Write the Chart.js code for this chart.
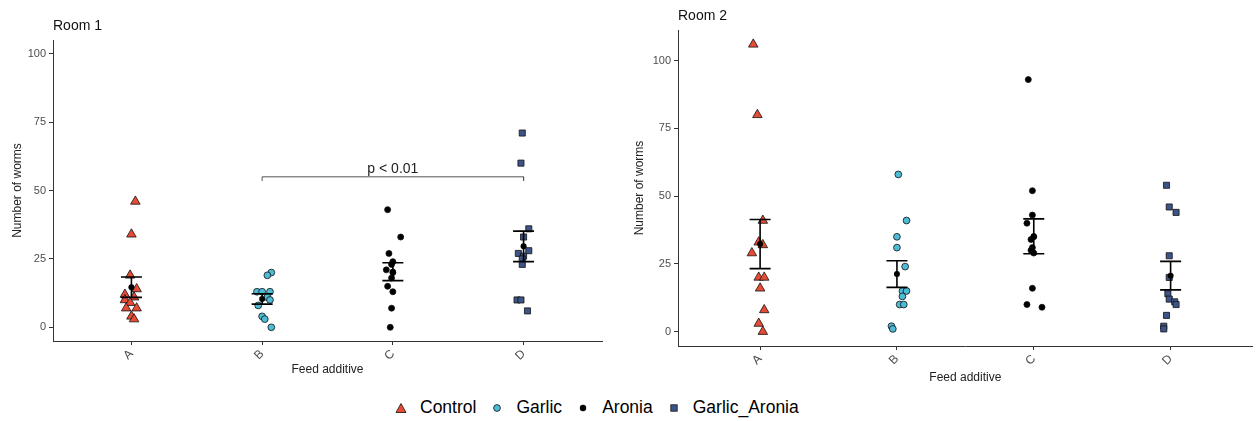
<!DOCTYPE html>
<html>
<head>
<meta charset="utf-8">
<script src="https://cdn.jsdelivr.net/npm/chart.js@4.4.1/dist/chart.umd.min.js"></script>
<style>
  body { margin: 0; background: #fff; width: 1259px; height: 421px; position: relative; overflow: hidden;
         font-family: "Liberation Sans", Arial, sans-serif; }
  #c1 { position: absolute; left: 0; top: 0; }
  #c2 { position: absolute; left: 620px; top: 0; }
  #legend { position: absolute; left: 395px; top: 397px; display: flex; align-items: center;
            font-size: 17.5px; color: #000; white-space: nowrap; }
  #legend svg { margin-right: 13px; }
  #legend span { margin-right: 15px; }
</style>
</head>
<body>
<canvas id="c1" width="610" height="385"></canvas>
<canvas id="c2" width="639" height="385"></canvas>
<div id="legend"></div>
<script>
const groups = ['A', 'B', 'C', 'D'];
const seriesNames = ['Control', 'Garlic', 'Aronia', 'Garlic_Aronia'];
const seriesColors = ['#E64B35', '#4DBBD5', '#000000', '#3C5488'];
const seriesShapes = ['triangle', 'circle', 'circle', 'rect'];
const seriesSizes = [5.5, 3.4, 3, 4.3];
const yTicks = [0, 25, 50, 75, 100];

// Room 1 values (worms per bird) and horizontal jitter
const r1Control = [46, 34, 19, 14, 12, 11, 10, 9, 7, 7, 4, 3];
const r1ControlJit = [0.03, 0.0, -0.01, 0.04, -0.05, 0.02, -0.05, -0.01, -0.04, 0.04, 0.0, 0.02];
const r1Garlic = [20, 19, 13, 13, 13, 11, 10, 8, 4, 3, 0];
const r1GarlicJit = [0.07, 0.04, -0.04, 0.0, 0.06, 0.04, 0.06, -0.03, 0.0, 0.02, 0.07];
const r1Aronia = [43, 33, 27, 24, 23, 21, 20, 18, 15, 13, 7, 0];
const r1AroniaJit = [-0.04, 0.06, -0.03, 0.0, -0.01, -0.05, 0.0, -0.01, -0.04, 0.0, -0.01, -0.02];
const r1GarlicAronia = [71, 60, 36, 33, 28, 27, 26, 25, 23, 10, 10, 6];
const r1GarlicAroniaJit = [-0.01, -0.02, 0.04, 0.0, 0.04, -0.04, 0.0, -0.01, -0.01, -0.05, -0.02, 0.03];

// Room 2
const r2Control = [106, 80, 41, 33, 32, 29, 20, 20, 16, 8, 3, 0];
const r2ControlJit = [-0.05, -0.02, 0.02, -0.01, 0.02, -0.06, -0.01, 0.03, 0.0, 0.03, -0.01, 0.02];
const r2Garlic = [58, 41, 35, 31, 24, 15, 15, 13, 10, 10, 2, 1];
const r2GarlicJit = [0.01, 0.07, 0.0, 0.0, 0.06, 0.04, 0.07, 0.04, 0.02, 0.05, -0.04, -0.03];
const r2Aronia = [93, 52, 43, 40, 35, 34, 31, 30, 29, 16, 10, 9];
const r2AroniaJit = [-0.04, -0.01, -0.01, -0.05, 0.0, -0.02, -0.01, -0.02, 0.0, -0.01, -0.05, 0.06];
const r2GarlicAronia = [54, 46, 44, 28, 20, 14, 12, 11, 10, 6, 2, 1];
const r2GarlicAroniaJit = [-0.03, -0.01, 0.04, -0.01, -0.01, -0.02, -0.01, 0.03, 0.04, -0.03, -0.05, -0.05];

// significance bracket in room 1 (B vs D)
const bracketFrom = 2, bracketTo = 4, bracketY = 55, bracketDrop = 1.5;
const bracketLabel = 'p < 0.01';

function mean(a) { return a.reduce((s, v) => s + v, 0) / a.length; }
function se(a) {
    const m = mean(a);
    const v = a.reduce((s, x) => s + (x - m) * (x - m), 0) / (a.length - 1);
    return Math.sqrt(v / a.length);
}

const extras = {
    id: 'extras',
    afterDatasetsDraw(chart, args, opts) {
        const ctx = chart.ctx;
        const x = chart.scales.x, y = chart.scales.y;
        ctx.save();
        // mean +/- SE error bars
        ctx.strokeStyle = '#000';
        ctx.lineWidth = 1.6;
        opts.groups.forEach(function (vals, i) {
            const m = mean(vals), s = se(vals);
            const px = x.getPixelForValue(i + 1);
            const top = y.getPixelForValue(m + s), bot = y.getPixelForValue(m - s);
            ctx.beginPath();
            ctx.moveTo(px, top); ctx.lineTo(px, bot);
            ctx.moveTo(px - 10.5, top); ctx.lineTo(px + 10.5, top);
            ctx.moveTo(px - 10.5, bot); ctx.lineTo(px + 10.5, bot);
            ctx.stroke();
            ctx.beginPath();
            ctx.fillStyle = '#000';
            ctx.arc(px, y.getPixelForValue(m), 3, 0, Math.PI * 2);
            ctx.fill();
        });
        // panel title
        ctx.fillStyle = '#111';
        ctx.font = '14px "Liberation Sans", Arial, sans-serif';
        ctx.textAlign = 'left';
        ctx.textBaseline = 'middle';
        ctx.fillText(opts.title, chart.chartArea.left, opts.titleY);
        if (opts.bracket) {
            ctx.fillStyle = '#222';
            ctx.textAlign = 'center';
            ctx.textBaseline = 'bottom';
            ctx.fillText(bracketLabel, x.getPixelForValue((bracketFrom + bracketTo) / 2), y.getPixelForValue(bracketY) - 1);
        }
        ctx.restore();
    }
};

function makeDatasets(valueSets, jitterSets, withBracket) {
    const ds = valueSets.map(function (vals, i) {
        return {
            label: seriesNames[i],
            data: vals.map((v, k) => ({ x: i + 1 + jitterSets[i][k], y: v })),
            pointStyle: seriesShapes[i],
            pointRadius: seriesSizes[i],
            backgroundColor: seriesColors[i],
            borderColor: '#111',
            borderWidth: 0.8,
            showLine: false,
        };
    });
    if (withBracket) {
        ds.push({
            label: 'bracket',
            data: [
                { x: bracketFrom, y: bracketY - bracketDrop }, { x: bracketFrom, y: bracketY },
                { x: bracketTo, y: bracketY }, { x: bracketTo, y: bracketY - bracketDrop },
            ],
            showLine: true,
            pointRadius: 0,
            borderColor: '#555',
            borderWidth: 1,
            fill: false,
        });
    }
    return ds;
}

function makeChart(id, o) {
    return new Chart(document.getElementById(id), {
        type: 'scatter',
        data: { datasets: makeDatasets(o.values, o.jitter, o.bracket) },
        plugins: [extras],
        options: {
            responsive: false,
            animation: false,
            events: [],
            layout: { padding: { top: o.top, right: o.right, left: 0, bottom: 0 } },
            plugins: {
                legend: { display: false },
                tooltip: { enabled: false },
                extras: { groups: o.values, title: o.title, titleY: o.titleY, bracket: o.bracket },
            },
            scales: {
                x: {
                    type: 'linear', min: 0.4, max: 4.6,
                    afterBuildTicks: s => { s.ticks = groups.map((g, i) => ({ value: i + 1 })); },
                    afterFit: s => { s.height = o.xHeight; },
                    ticks: {
                        callback: (v, i) => groups[i], autoSkip: false,
                        minRotation: 45, maxRotation: 45,
                        color: '#4d4d4d', font: { size: 12 }, padding: 2,
                    },
                    grid: { display: true, drawOnChartArea: false, drawTicks: true, tickLength: 4, color: '#333' },
                    border: { display: true, color: '#333', width: 1 },
                    title: { display: true, text: 'Feed additive', color: '#222', font: { size: 12 },
                             padding: { top: 0, bottom: o.xTitlePad } },
                },
                y: {
                    min: o.yMin, max: o.yMax,
                    afterBuildTicks: s => { s.ticks = yTicks.map(v => ({ value: v })); },
                    afterFit: s => { s.width = o.yWidth; },
                    ticks: { color: '#4d4d4d', font: { size: 11 }, padding: 3 },
                    grid: { display: true, drawOnChartArea: false, drawTicks: true, tickLength: 4, color: '#333' },
                    border: { display: true, color: '#333', width: 1 },
                    title: { display: true, text: 'Number of worms', color: '#222', font: { size: 12 },
                             padding: { top: o.yTitlePad, bottom: 0 } },
                },
            },
        },
    });
}

makeChart('c1', {
    values: [r1Control, r1Garlic, r1Aronia, r1GarlicAronia],
    jitter: [r1ControlJit, r1GarlicJit, r1AroniaJit, r1GarlicAroniaJit],
    bracket: true, title: 'Room 1', titleY: 26,
    top: 40, right: 8, yWidth: 53, xHeight: 44, yMin: -5, yMax: 105,
    xTitlePad: 8, yTitlePad: 10,
});
makeChart('c2', {
    values: [r2Control, r2Garlic, r2Aronia, r2GarlicAronia],
    jitter: [r2ControlJit, r2GarlicJit, r2AroniaJit, r2GarlicAroniaJit],
    bracket: false, title: 'Room 2', titleY: 16,
    top: 30, right: 6, yWidth: 58, xHeight: 39, yMin: -5.3, yMax: 111.3,
    xTitlePad: 0, yTitlePad: 12,
});

// shared legend under both panels
const markers = [
    '<svg width="12" height="12"><polygon points="6,1.5 11,10.5 1,10.5" fill="#E64B35" stroke="#111" stroke-width="0.8"/></svg>',
    '<svg width="12" height="12"><circle cx="6" cy="6" r="3.4" fill="#4DBBD5" stroke="#111" stroke-width="0.8"/></svg>',
    '<svg width="12" height="12"><circle cx="6" cy="6" r="3.2" fill="#000"/></svg>',
    '<svg width="12" height="12"><rect x="2.8" y="2.8" width="6.4" height="6.4" fill="#3C5488" stroke="#111" stroke-width="0.8"/></svg>',
];
document.getElementById('legend').innerHTML = seriesNames.map((n, i) => markers[i] + '<span>' + n + '</span>').join('');
</script>
</body>
</html>
